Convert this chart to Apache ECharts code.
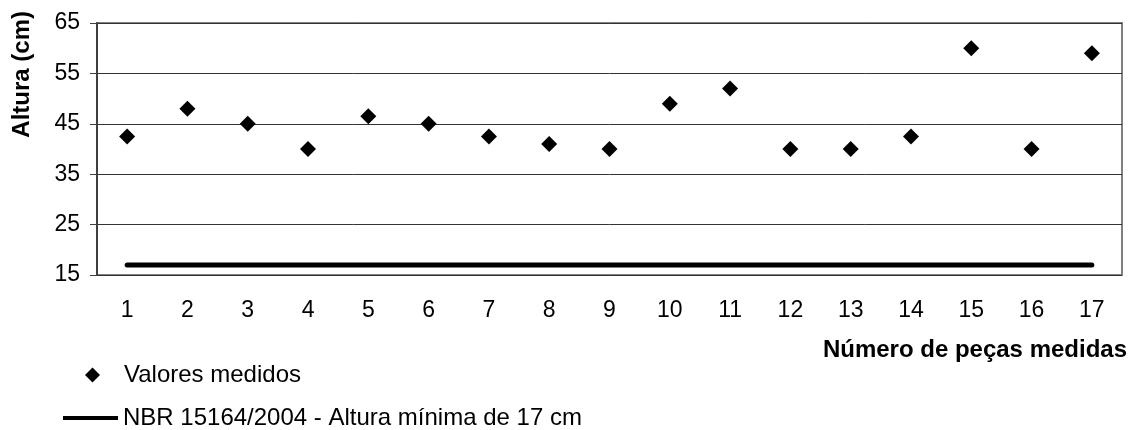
<!DOCTYPE html>
<html>
<head>
<meta charset="utf-8">
<script src="https://cdn.jsdelivr.net/npm/echarts@6/dist/echarts.min.js"></script>
<style>html,body{margin:0;padding:0;background:#fff}#c{width:1137px;height:430px}</style>
</head>
<body>
<div id="c"></div>
<script>
var categories = ['1','2','3','4','5','6','7','8','9','10','11','12','13','14','15','16','17'];
var measured = [42.5, 48, 45, 40, 46.5, 45, 42.5, 41, 40, 49, 52, 40, 40, 42.5, 60, 40, 59];
var minimum = [17, 17, 17, 17, 17, 17, 17, 17, 17, 17, 17, 17, 17, 17, 17, 17, 17];
var seriesNames = ['Valores medidos', 'NBR 15164/2004 - Altura mínima de 17 cm'];
var yTitle = 'Altura (cm)';
var xTitle = 'Número de peças medidas';

var FONT = '"Liberation Sans", Arial, sans-serif';
var chart = echarts.init(document.getElementById('c'));
chart.setOption({
  animation: false,
  backgroundColor: '#fff',
  textStyle: {fontFamily: FONT},
  grid: {left: 97, right: 15, top: 23, bottom: 155, show: true, borderColor: '#808080', borderWidth: 2},
  xAxis: {
    type: 'category', data: categories, boundaryGap: true,
    axisLine: {show: false}, axisTick: {show: false},
    axisLabel: {color: '#000', fontSize: 23, fontFamily: FONT, margin: 24}
  },
  yAxis: {
    type: 'value', min: 15, max: 65, interval: 10,
    axisLine: {show: true, lineStyle: {color: '#404040', width: 2}},
    axisTick: {show: true, length: 7, lineStyle: {color: '#404040', width: 1}},
    axisLabel: {color: '#000', fontSize: 23, fontFamily: FONT, margin: 17},
    splitLine: {show: true, lineStyle: {color: '#333', width: 1}}
  },
  legend: [
    {data: [seriesNames[0]], left: 80, top: 356, orient: 'vertical', itemWidth: 15, itemHeight: 15,
     textStyle: {fontSize: 24, color: '#000', fontFamily: FONT, lineHeight: 28, padding: [0, 0, 0, 19]}},
    {data: [{name: seriesNames[1], icon: 'rect'}], left: 58, top: 399, orient: 'vertical', itemWidth: 55, itemHeight: 4,
     textStyle: {fontSize: 24, color: '#000', fontFamily: FONT, lineHeight: 28}}
  ],
  graphic: [
    {type: 'text', left: 10, top: 11, rotation: Math.PI / 2, style: {text: yTitle, font: 'bold 24px ' + FONT, fill: '#000'}},
    {type: 'text', right: 10, top: 338, style: {text: xTitle, font: 'bold 24px ' + FONT, fill: '#000'}}
  ],
  series: [
    {name: seriesNames[0], type: 'scatter', data: measured, symbol: 'diamond', symbolSize: 16,
     itemStyle: {color: '#000', opacity: 1}, z: 3},
    {name: seriesNames[1], type: 'line', data: minimum, symbol: 'none', showSymbol: false,
     lineStyle: {color: '#000', width: 5, cap: 'round'}, itemStyle: {color: '#000'}, z: 2}
  ]
});
</script>
</body>
</html>
